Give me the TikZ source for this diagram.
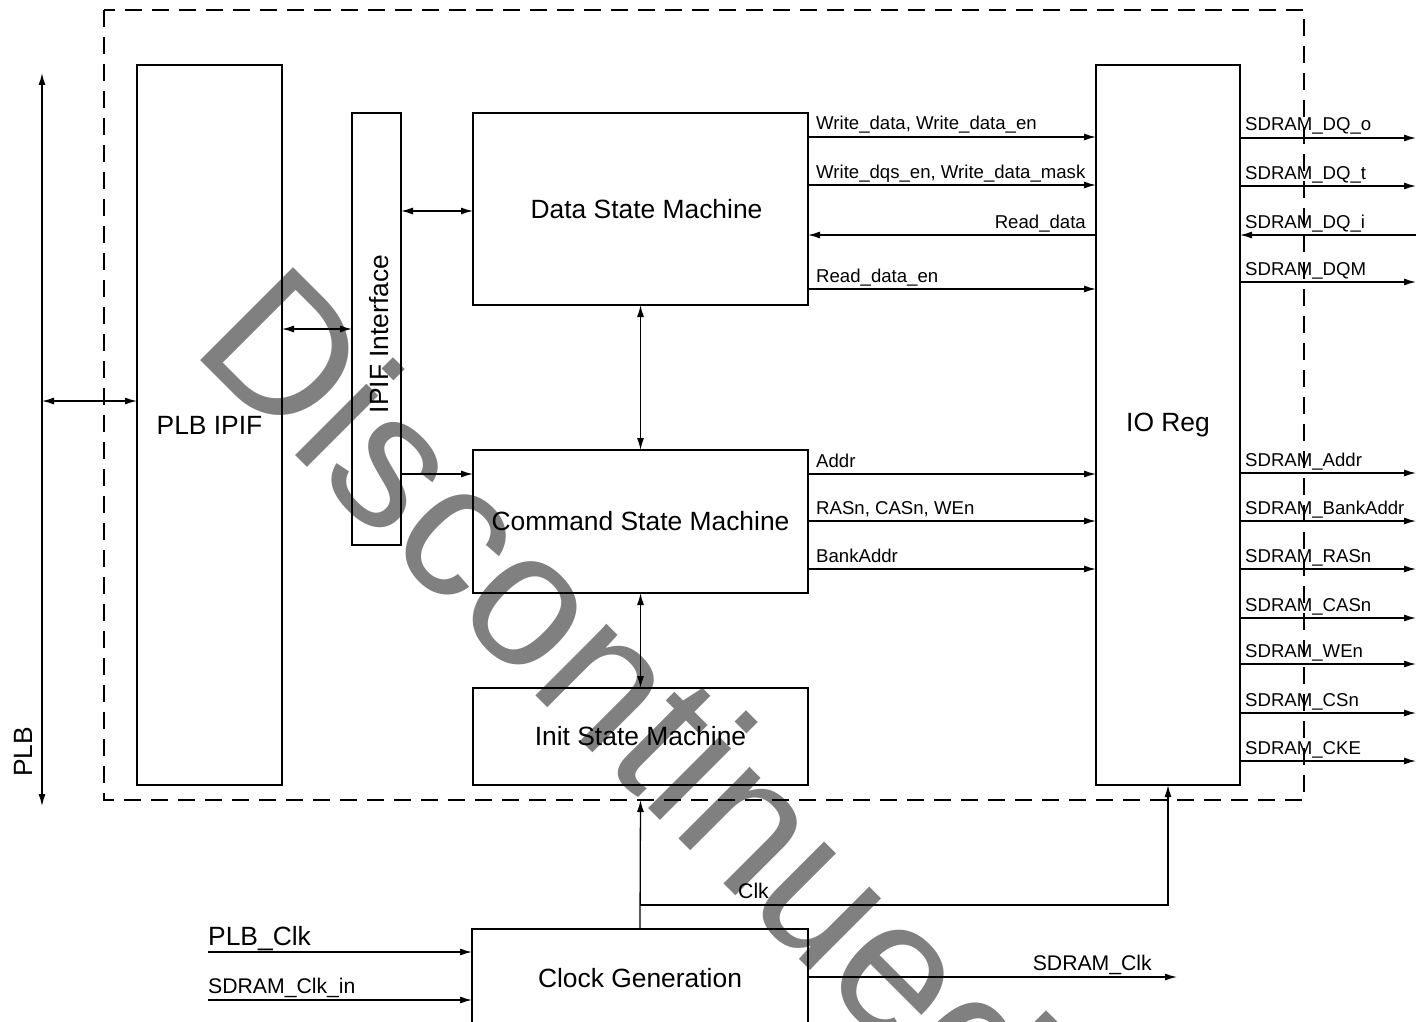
\documentclass[tikz,border=0pt]{standalone}
\usepackage{fontspec}
\setmainfont{Liberation Sans}
\usetikzlibrary{arrows.meta}
\newcommand\fbig{\fontsize{26.4}{30}\selectfont}
\newcommand\fmed{\fontsize{21.2}{24}\selectfont}
\newcommand\fsml{\fontsize{18.6}{21}\selectfont}
\definecolor{wmgray}{RGB}{128,128,128}
\begin{document}
\begin{tikzpicture}[x=1pt,y=-1pt,
  blk/.style={draw, line width=2.4pt, rectangle, inner sep=0pt, outer sep=0pt, font=\fbig},
  conn/.style={line width=1.3pt},
  arr/.style={conn, -{Latex[length=12pt,width=7pt]}},
  bi/.style={conn, {Latex[length=12pt,width=7pt]}-{Latex[length=12pt,width=7pt]}},
  sig/.style={anchor=base west, inner sep=0pt, font=\fsml},
  sigr/.style={anchor=base east, inner sep=0pt, font=\fsml},
  med/.style={anchor=base west, inner sep=0pt, font=\fmed},
]
\useasboundingbox (0,0) rectangle (1424,1022);
\clip (0,0) rectangle (1424,1022);

% watermark
\node[rotate=-45, anchor=base west, inner sep=0pt, text=wmgray,
      font=\fontsize{191}{191}\selectfont] (wm) at (189,349) {Discontinued};

% dashed core boundary
\draw[line width=1.3pt, dash pattern=on 17pt off 10pt] (104,10) rectangle (1304,800);

% blocks
\node[blk, minimum width=145pt, minimum height=720pt] (plb) at (209.5,425) {PLB IPIF};
\node[blk, minimum width=49pt, minimum height=432pt] (ipif) at (376.5,329) {};
\node[rotate=90, anchor=base, inner sep=0pt, font=\fbig] (ipiftxt) at (388,334) {IPIF Interface};
\node[blk, minimum width=335pt, minimum height=192pt] (dsm) at (640.5,209) {};
\node[inner sep=0pt, font=\fbig] (dsmtxt) at (646.5,209) {Data State Machine};
\node[blk, minimum width=335pt, minimum height=143pt] (csm) at (640.5,521.5) {Command State Machine};
\node[blk, minimum width=335pt, minimum height=97pt] (ism) at (640.5,736.5) {Init State Machine};
\node[blk, minimum width=144pt, minimum height=720pt] (io) at (1168,425) {IO Reg};
\node[blk, minimum width=336pt, minimum height=98pt] (clk) at (640,978) {Clock Generation};

% PLB bus
\coordinate (bt) at (42,73);
\coordinate (bb) at (42,806);
\draw[bi] (bt) -- (bb);
\node[rotate=90, anchor=base, inner sep=0pt, font=\fbig] (plbtxt) at (32,752) {PLB};
\coordinate (yb) at (0,401);
\draw[bi] (bt |- yb) -- (plb.west |- yb);

% PLB IPIF <-> IPIF interface
\coordinate (y1) at (0,329);
\draw[bi] (plb.east |- y1) -- (ipif.west |- y1);
\coordinate (y2) at (0,211);
\draw[bi] (ipif.east |- y2) -- (dsm.west |- y2);
\coordinate (y3) at (0,474);
\draw[arr] (ipif.east |- y3) -- (csm.west |- y3);

% state machine links
\draw[bi] (dsm.south) -- (csm.north);
\draw[bi] (csm.south) -- (ism.north);

% data state machine signals
\coordinate (d1) at (0,137);
\coordinate (d2) at (0,185);
\coordinate (d3) at (0,235);
\coordinate (d4) at (0,289);
\draw[arr] (dsm.east |- d1) -- (io.west |- d1);
\draw[arr] (dsm.east |- d2) -- (io.west |- d2);
\draw[arr] (io.west |- d3) -- (dsm.east |- d3);
\draw[arr] (dsm.east |- d4) -- (io.west |- d4);
\node[sig] (ld1) at (816,130) {Write\_data, Write\_data\_en};
\node[sig] (ld2) at (816,178) {Write\_dqs\_en, Write\_data\_mask};
\node[sigr] (ld3) at (1086,228) {Read\_data};
\node[sig] (ld4) at (816,282) {Read\_data\_en};

% command state machine signals
\coordinate (c1) at (0,474);
\coordinate (c2) at (0,521);
\coordinate (c3) at (0,569);
\draw[arr] (csm.east |- c1) -- (io.west |- c1);
\draw[arr] (csm.east |- c2) -- (io.west |- c2);
\draw[arr] (csm.east |- c3) -- (io.west |- c3);
\node[sig] (lc1) at (816,467) {Addr};
\node[sig] (lc2) at (816,514) {RASn, CASn, WEn};
\node[sig] (lc3) at (816,562) {BankAddr};

% IO outputs
\foreach \i/\y/\t in {1/138/SDRAM\_DQ\_o, 2/186/SDRAM\_DQ\_t, 4/282/SDRAM\_DQM,
    5/473/SDRAM\_Addr, 6/521/SDRAM\_BankAddr, 7/569/SDRAM\_RASn, 8/618/SDRAM\_CASn,
    9/664/SDRAM\_WEn, 10/713/SDRAM\_CSn, 11/761/SDRAM\_CKE}{
  \coordinate (o\i) at (1416,\y);
  \draw[arr] (io.east |- o\i) -- (o\i);
  \node[sig] (lo\i) at (1245,\y-7) {\t};
}
\coordinate (o3) at (1416,235);
\draw[arr] (o3) -- (io.east |- o3);
\node[sig] (lo3) at (1245,228) {SDRAM\_DQ\_i};

% clock distribution
\coordinate (ck) at (0,905);
\coordinate (ismin) at ([yshift=-15pt]ism.south);
\draw[arr] (clk.north) -- (ismin);
\draw[arr] (clk.north |- ck) -- (io.south |- ck) -- (io.south);
\node[med] (lclk) at (738,898) {Clk};

% clock inputs / output
\coordinate (i1) at (208,952);
\coordinate (i2) at (208,1000);
\draw[arr] (i1) -- (clk.west |- i1);
\draw[arr] (i2) -- (clk.west |- i2);
\node[anchor=base west, inner sep=0pt, font=\fbig] (li1) at (208,945) {PLB\_Clk};
\node[med] (li2) at (208,993) {SDRAM\_Clk\_in};
\coordinate (so) at (1177,977);
\draw[arr] (clk.east |- so) -- (so);
\node[anchor=base east, inner sep=0pt, font=\fmed] (lso) at (1152,970) {SDRAM\_Clk};
\end{tikzpicture}
\end{document}
